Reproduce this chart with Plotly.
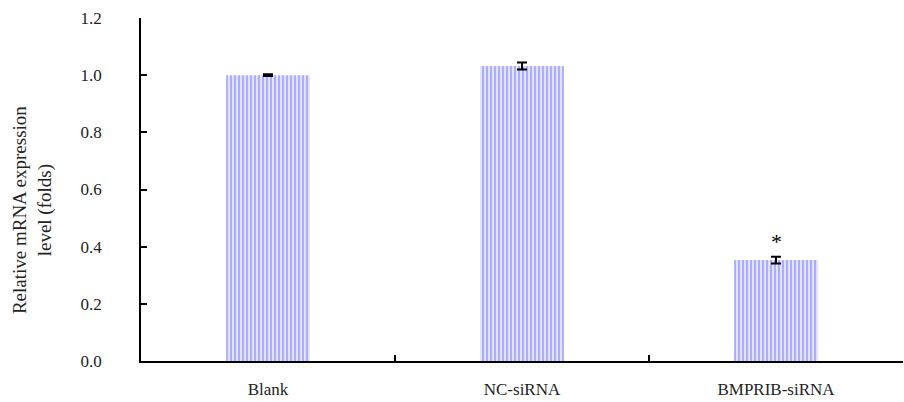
import plotly.graph_objects as go

# Relative expression per group
groups = ["Blank", "NC-siRNA", "BMPRIB-siRNA"]
expression = [1.0, 1.032, 0.353]
sem = [0.003, 0.012, 0.012]
significance = ["", "", "*"]

y_ticks = [0.0, 0.2, 0.4, 0.6, 0.8, 1.0, 1.2]
y_title = "Relative mRNA expression<br>level (folds)"

font_family = "Liberation Serif, Times New Roman, serif"

fig = go.Figure()
fig.add_trace(go.Bar(
    x=groups,
    y=expression,
    width=0.33,
    marker=dict(
        color="#e0e0ff",
        line=dict(width=0),
        pattern=dict(shape="|", fgcolor="#6c6cff", bgcolor="#e2e2ff",
                     size=4, solidity=0.45),
    ),
    error_y=dict(type="data", array=sem, visible=True, color="black",
                 thickness=2, width=5),
    showlegend=False,
))

for g, v, e, s in zip(groups, expression, sem, significance):
    if s:
        fig.add_annotation(x=g, y=v + e, text=s, showarrow=False,
                           yanchor="bottom", yshift=1,
                           font=dict(family=font_family, size=22, color="black"))

# y-axis title placed as a rotated annotation, sitting a little below centre
fig.add_annotation(
    text=y_title, xref="paper", yref="paper", x=-0.143, y=0.44,
    xanchor="center", yanchor="middle", textangle=-90, showarrow=False,
    font=dict(family=font_family, size=19, color="#222"),
)

fig.update_layout(
    width=904, height=402,
    margin=dict(l=141, r=1, t=18, b=41),
    paper_bgcolor="white", plot_bgcolor="white",
    font=dict(family=font_family, size=17, color="#222"),
    bargap=0.67,
)
fig.update_xaxes(
    type="category", automargin=False,
    showline=True, linecolor="black", linewidth=1.5,
    ticks="inside", tickson="boundaries", ticklen=6, tickwidth=1.5, tickcolor="black",
    ticklabelstandoff=12,
    showgrid=False, zeroline=False,
    tickfont=dict(size=17),
)
fig.update_yaxes(
    range=[0, 1.2], automargin=False,
    tickvals=y_ticks, tickformat=".1f",
    showline=True, linecolor="black", linewidth=1.5,
    ticks="inside", ticklen=6, tickwidth=1.5, tickcolor="black",
    ticklabelstandoff=34,
    showgrid=False, zeroline=False,
    tickfont=dict(size=17),
)

fig.write_html("out.html")
